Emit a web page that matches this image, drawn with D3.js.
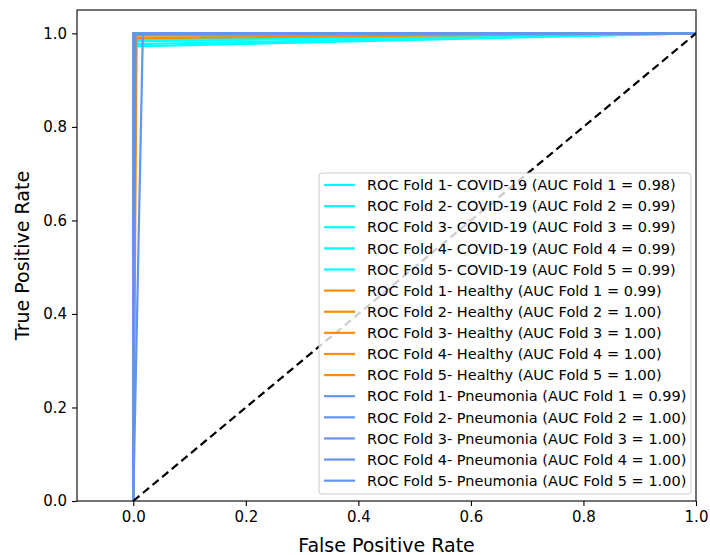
<!DOCTYPE html>
<html>
<head>
<meta charset="utf-8">
<script src="https://cdn.jsdelivr.net/npm/d3@7"></script>
<style>
  body { margin: 0; background: #fff; }
  svg { display: block; font-family: "DejaVu Sans", sans-serif; }
</style>
</head>
<body>
<svg id="chart" width="710" height="555"></svg>
<script>
// ROC points per class and fold
const classes = ["COVID-19", "Healthy", "Pneumonia"];
const classColors = ["#00ffff", "#ff8c00", "#6495ed"];
const folds = [1, 2, 3, 4, 5];

const covidFpr = [[0, 0, 1], [0, 0, 1], [0, 0, 1], [0, 0, 1], [0, 0, 1]];
const covidTpr = [[0, 0.972, 1], [0, 0.977, 1], [0, 0.983, 1], [0, 0.987, 1], [0, 0.99, 1]];
const covidAuc = ["0.98", "0.99", "0.99", "0.99", "0.99"];

const healthyFpr = [[0, 0, 1], [0, 0, 1], [0, 0.006, 1], [0, 0, 1], [0, 0, 1]];
const healthyTpr = [[0, 0.99, 1], [0, 1, 1], [0, 1, 1], [0, 0.995, 1], [0, 1, 1]];
const healthyAuc = ["0.99", "1.00", "1.00", "1.00", "1.00"];

const pneuFpr = [[0, 0.017, 1], [0, 0.004, 1], [0, 0, 1], [0, 0, 1], [0, 0, 1]];
const pneuTpr = [[0, 1, 1], [0, 1, 1], [0, 1, 1], [0, 0.998, 1], [0, 1, 1]];
const pneuAuc = ["0.99", "1.00", "1.00", "1.00", "1.00"];

const xTicks = [0, 0.2, 0.4, 0.6, 0.8, 1.0];
const yTicks = [0, 0.2, 0.4, 0.6, 0.8, 1.0];

const svg = d3.select("#chart");
const margin = { left: 77, right: 14, top: 10, bottom: 54 };
const W = 710, H = 555;

const x = d3.scaleLinear().domain([-0.1, 1.0]).range([margin.left, W - margin.right]);
const y = d3.scaleLinear().domain([0, 1.05]).range([H - margin.bottom, margin.top]);

// build series list
const fprs = [covidFpr, healthyFpr, pneuFpr];
const tprs = [covidTpr, healthyTpr, pneuTpr];
const aucs = [covidAuc, healthyAuc, pneuAuc];
const series = [];
classes.forEach((c, ci) => {
  folds.forEach((f, fi) => {
    series.push({
      label: `ROC Fold ${f}- ${c} (AUC Fold ${f} = ${aucs[ci][fi]})`,
      color: classColors[ci],
      pts: fprs[ci][fi].map((v, k) => [v, tprs[ci][fi][k]])
    });
  });
});

const plot = svg.append("g");
plot.append("clipPath").attr("id", "clip")
  .append("rect")
  .attr("x", margin.left).attr("y", margin.top)
  .attr("width", W - margin.left - margin.right)
  .attr("height", H - margin.top - margin.bottom);

const line = d3.line().x(d => x(d[0])).y(d => y(d[1]));

const lines = plot.append("g").attr("clip-path", "url(#clip)");
series.forEach(s => {
  lines.append("path")
    .datum(s.pts)
    .attr("d", line)
    .attr("fill", "none")
    .attr("stroke", s.color)
    .attr("stroke-width", 2.2)
    .attr("stroke-linejoin", "round");
});

// chance diagonal
lines.append("path")
  .datum([[0, 0], [1, 1]])
  .attr("d", line)
  .attr("fill", "none")
  .attr("stroke", "#000")
  .attr("stroke-width", 2.2)
  .attr("stroke-dasharray", "8,4.5");

// axes
const xAxis = d3.axisBottom(x).tickValues(xTicks).tickFormat(d3.format(".1f")).tickSizeOuter(0).tickSize(5).tickPadding(5);
const yAxis = d3.axisLeft(y).tickValues(yTicks).tickFormat(d3.format(".1f")).tickSizeOuter(0).tickSize(5).tickPadding(5);

const gx = svg.append("g").attr("transform", `translate(0,${H - margin.bottom})`).call(xAxis);
const gy = svg.append("g").attr("transform", `translate(${margin.left},0)`).call(yAxis);
[gx, gy].forEach(g => {
  g.select(".domain").remove();
  g.selectAll("line").attr("stroke", "#000").attr("stroke-width", 1.1);
  g.selectAll("text").attr("fill", "#000").style("font-size", "15px").style("font-family", "DejaVu Sans");
});

// spines
svg.append("rect")
  .attr("x", margin.left).attr("y", margin.top)
  .attr("width", W - margin.left - margin.right)
  .attr("height", H - margin.top - margin.bottom)
  .attr("fill", "none").attr("stroke", "#000").attr("stroke-width", 1.1);

// axis labels
svg.append("text")
  .attr("x", x(0.45)).attr("y", 552)
  .attr("text-anchor", "middle")
  .style("font-size", "19px")
  .text("False Positive Rate");
svg.append("text")
  .attr("transform", `translate(29,${y(0.525)}) rotate(-90)`)
  .attr("text-anchor", "middle")
  .style("font-size", "19px")
  .text("True Positive Rate");

// legend
const lg = svg.append("g");
lg.append("rect")
  .attr("x", 319).attr("y", 173)
  .attr("width", 372).attr("height", 321)
  .attr("rx", 3)
  .attr("fill", "#fff").attr("fill-opacity", 0.8)
  .attr("stroke", "#cccccc").attr("stroke-width", 1);
series.forEach((s, i) => {
  const cy = 185 + i * 21.12;
  lg.append("line")
    .attr("x1", 324).attr("x2", 355)
    .attr("y1", cy).attr("y2", cy)
    .attr("stroke", s.color).attr("stroke-width", 2.2);
  lg.append("text")
    .attr("x", 367).attr("y", cy)
    .attr("dy", "0.36em")
    .style("font-size", "14.5px")
    .text(s.label);
});
</script>
</body>
</html>
